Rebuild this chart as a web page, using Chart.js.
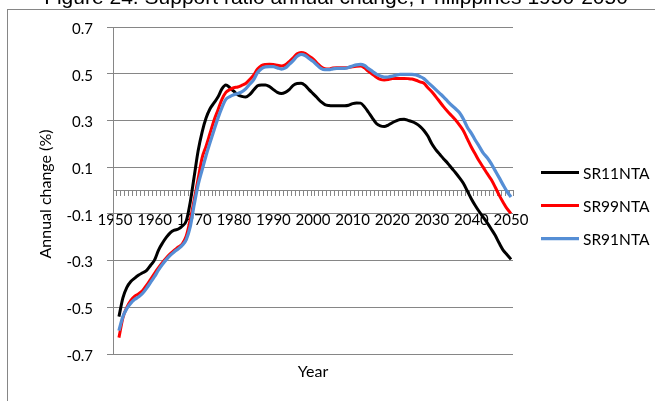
<!DOCTYPE html>
<html>
<head>
<meta charset="utf-8">
<script src="https://cdn.jsdelivr.net/npm/chart.js@4/dist/chart.umd.min.js"></script>
<style>
  body { margin: 0; background: #fff; }
  canvas { display: block; }
</style>
</head>
<body>
<canvas id="myChart" width="655" height="401"></canvas>
<script>
// years 1950..2050 (category axis, labels every 10 years)
const years = [];
for (let y = 1950; y <= 2050; y++) years.push(String(y));

const seriesNames = ['SR11NTA', 'SR99NTA', 'SR91NTA'];
const yTicks = [-0.7, -0.5, -0.3, -0.1, 0.1, 0.3, 0.5, 0.7];

// annual change (%), first value (1950) is empty
const sr11nta = [null,
  -0.54, -0.46, -0.415, -0.39, -0.375, -0.362, -0.352, -0.342, -0.32, -0.297,
  -0.255, -0.225, -0.2, -0.18, -0.17, -0.165, -0.152, -0.13, -0.05, 0.06,
  0.17, 0.25, 0.31, 0.35, 0.375, 0.40, 0.435, 0.452, 0.44, 0.425,
  0.41, 0.403, 0.40, 0.41, 0.43, 0.448, 0.452, 0.452, 0.445, 0.432,
  0.42, 0.415, 0.42, 0.432, 0.45, 0.458, 0.459, 0.45, 0.432, 0.415,
  0.398, 0.38, 0.368, 0.364, 0.363, 0.363, 0.363, 0.363, 0.365, 0.372,
  0.375, 0.374, 0.358, 0.335, 0.31, 0.287, 0.277, 0.274, 0.28, 0.29,
  0.298, 0.304, 0.305, 0.3, 0.295, 0.287, 0.275, 0.257, 0.233, 0.2,
  0.175, 0.155, 0.135, 0.117, 0.096, 0.076, 0.054, 0.03, -0.003, -0.036,
  -0.065, -0.091, -0.115, -0.139, -0.165, -0.192, -0.225, -0.255, -0.275, -0.295];

const sr99nta = [null,
  -0.63, -0.545, -0.5, -0.47, -0.452, -0.442, -0.428, -0.405, -0.38, -0.355,
  -0.33, -0.308, -0.288, -0.27, -0.255, -0.242, -0.228, -0.195, -0.125, -0.04,
  0.05, 0.14, 0.19, 0.245, 0.3, 0.345, 0.39, 0.42, 0.432, 0.44,
  0.443, 0.45, 0.458, 0.475, 0.494, 0.52, 0.535, 0.54, 0.541, 0.54,
  0.536, 0.533, 0.538, 0.552, 0.568, 0.585, 0.591, 0.587, 0.575, 0.563,
  0.546, 0.53, 0.521, 0.52, 0.525, 0.526, 0.526, 0.526, 0.527, 0.53,
  0.532, 0.533, 0.525, 0.51, 0.498, 0.485, 0.476, 0.473, 0.475, 0.479,
  0.48, 0.48, 0.48, 0.479, 0.477, 0.472, 0.465, 0.459, 0.44, 0.423,
  0.402, 0.38, 0.358, 0.338, 0.32, 0.302, 0.28, 0.255, 0.22, 0.185,
  0.155, 0.125, 0.099, 0.072, 0.047, 0.015, -0.02, -0.05, -0.078, -0.098];

const sr91nta = [null,
  -0.60, -0.54, -0.505, -0.482, -0.466, -0.455, -0.44, -0.418, -0.393, -0.368,
  -0.34, -0.316, -0.295, -0.277, -0.262, -0.249, -0.234, -0.21, -0.155, -0.06,
  0.025, 0.088, 0.15, 0.205, 0.258, 0.31, 0.355, 0.39, 0.402, 0.41,
  0.415, 0.422, 0.435, 0.455, 0.474, 0.505, 0.522, 0.529, 0.53, 0.53,
  0.525, 0.52, 0.525, 0.54, 0.556, 0.575, 0.583, 0.578, 0.565, 0.553,
  0.537, 0.523, 0.517, 0.517, 0.521, 0.523, 0.523, 0.523, 0.527, 0.533,
  0.538, 0.54, 0.535, 0.522, 0.51, 0.498, 0.49, 0.485, 0.486, 0.49,
  0.494, 0.497, 0.497, 0.497, 0.497, 0.495, 0.488, 0.479, 0.463, 0.448,
  0.432, 0.416, 0.4, 0.382, 0.365, 0.35, 0.333, 0.305, 0.27, 0.245,
  0.215, 0.188, 0.16, 0.14, 0.115, 0.085, 0.055, 0.024, -0.005, -0.028];

const axisGrey = '#868686';
const labelFont = { family: 'Lato, "Liberation Sans", sans-serif', size: 15 };

// frame, title, axis titles and legend
const decor = {
    id: 'decor',
    beforeDraw(chart) {
        const c = chart.ctx;
        c.save();
        c.fillStyle = '#fff';
        c.fillRect(0, 0, chart.width, chart.height);
        c.strokeStyle = axisGrey;
        c.lineWidth = 1;
        c.strokeRect(7.5, 9.5, 800, 500);
        c.restore();
    },
    afterDraw(chart) {
        const c = chart.ctx;
        const area = chart.chartArea;
        c.save();
        c.fillStyle = '#000';
        c.textAlign = 'center';
        c.textBaseline = 'alphabetic';
        c.font = '21px "Liberation Sans", Arial, sans-serif';
        c.fillText('Figure 24. Support ratio annual change, Philippines 1950-2050', 336, 4);

        c.font = '16px Lato, "Liberation Sans", sans-serif';
        c.textBaseline = 'middle';
        c.fillText('Year', (area.left + area.right) / 2, 372);
        c.save();
        c.translate(46, 194);
        c.rotate(-Math.PI / 2);
        c.fillText('Annual change (%)', 0, 0);
        c.restore();

        // legend
        c.font = '15.5px Lato, "Liberation Sans", sans-serif';
        c.textAlign = 'left';
        chart.data.datasets.forEach((ds, i) => {
            const y = 172.5 + i * 33;
            c.strokeStyle = ds.borderColor;
            c.lineWidth = ds.borderWidth;
            c.beginPath();
            c.moveTo(541, y);
            c.lineTo(579, y);
            c.stroke();
            c.fillStyle = '#000';
            c.fillText(ds.label, 583, y + 1);
        });
        c.restore();
    }
};

const ctx = document.getElementById('myChart').getContext('2d');
const myChart = new Chart(ctx, {
    type: 'line',
    data: {
        labels: years,
        datasets: [
            { label: seriesNames[0], data: sr11nta, borderColor: '#000000', borderWidth: 3, order: 3 },
            { label: seriesNames[1], data: sr99nta, borderColor: '#FF0000', borderWidth: 3, order: 2 },
            { label: seriesNames[2], data: sr91nta, borderColor: '#558ED5', borderWidth: 3.25, order: 1 }
        ]
    },
    options: {
        responsive: false,
        animation: false,
        devicePixelRatio: 1,
        layout: { padding: { left: 0, right: 142, top: 27, bottom: 47 } },
        elements: {
            point: { radius: 0 },
            line: { tension: 0.3, cubicInterpolationMode: 'monotone', fill: false }
        },
        plugins: {
            legend: { display: false },
            tooltip: { enabled: false }
        },
        scales: {
            x: {
                type: 'category',
                position: { y: 0 },
                offset: true,
                grid: { display: true, drawOnChartArea: false, offset: true, color: axisGrey, tickLength: 5 },
                border: { display: true, color: axisGrey, width: 1 },
                ticks: {
                    autoSkip: false,
                    maxRotation: 0,
                    padding: 16,
                    color: '#000',
                    font: labelFont,
                    callback: function (val, idx) {
                        const lab = years[idx];
                        return Number(lab) % 10 === 0 ? lab : '';
                    }
                }
            },
            y: {
                min: -0.7,
                max: 0.7,
                afterFit(scale) { scale.width = 113; },
                afterBuildTicks(scale) { scale.ticks = yTicks.map(v => ({ value: v })); },
                grid: { color: axisGrey, tickLength: 6 },
                border: { display: true, color: axisGrey, width: 1 },
                ticks: {
                    padding: 14,
                    labelOffset: 2,
                    color: '#000',
                    font: labelFont,
                    callback: v => v.toFixed(1)
                }
            }
        }
    },
    plugins: [decor]
});
</script>
</body>
</html>
